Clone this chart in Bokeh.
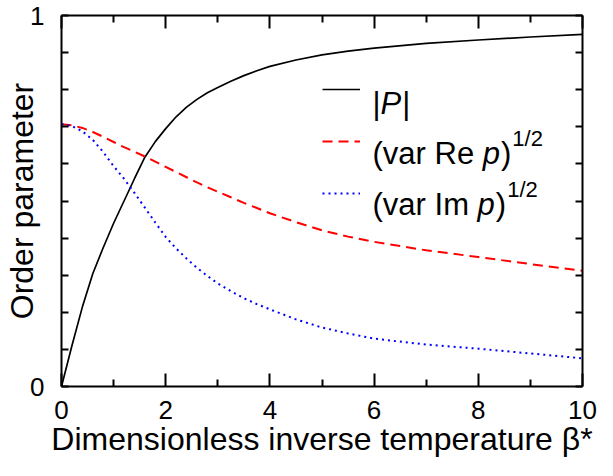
from bokeh.plotting import figure
from bokeh.models import (Range1d, FixedTicker, LinearAxis, Label, Legend, LegendItem,
                          CustomJSTickFormatter)
from bokeh.core.properties import value
from bokeh.embed import file_html
from bokeh.resources import INLINE

# ---- data ----
beta = [0, 0.2, 0.4, 0.6, 0.8, 1.0, 1.2, 1.4, 1.6, 1.8, 2.0, 2.2, 2.4, 2.6, 2.8, 3.0,
        3.25, 3.5, 3.75, 4.0, 4.5, 5.0, 5.5, 6.0, 7.0, 8.0, 9.0, 10.0]
abs_P = [0, 0.11, 0.214, 0.304, 0.374, 0.44, 0.5, 0.56, 0.618, 0.66, 0.695, 0.727, 0.753,
         0.774, 0.792, 0.806, 0.823, 0.838, 0.851, 0.863, 0.88, 0.894, 0.904, 0.912,
         0.925, 0.934, 0.942, 0.949]
std_re = [0.707, 0.704, 0.697, 0.686, 0.673, 0.659, 0.645, 0.633, 0.62, 0.606, 0.592,
          0.578, 0.564, 0.55, 0.537, 0.525, 0.51, 0.495, 0.481, 0.467, 0.443, 0.421,
          0.404, 0.39, 0.367, 0.349, 0.33, 0.312]
std_im = [0.707, 0.702, 0.688, 0.665, 0.632, 0.594, 0.56, 0.522, 0.482, 0.442, 0.403,
          0.372, 0.345, 0.32, 0.298, 0.278, 0.257, 0.238, 0.222, 0.208, 0.181, 0.159,
          0.143, 0.129, 0.113, 0.102, 0.089, 0.076]

x_ticks = [0, 2, 4, 6, 8, 10]
x_minor = [1, 3, 5, 7, 9]
y_ticks = [0, 1]
y_minor = [0.1, 0.2, 0.3, 0.4, 0.5, 0.6, 0.7, 0.8, 0.9]

x_label = "Dimensionless inverse temperature β*"
y_label = "Order parameter"

FONT = "Liberation Sans"

p = figure(width=597, height=460, output_backend="svg", toolbar_location=None,
           x_range=Range1d(0, 10), y_range=Range1d(0, 1),
           min_border_left=61, min_border_right=15, min_border_top=15, min_border_bottom=74,
           x_axis_label=x_label, y_axis_label=y_label)
p.xgrid.visible = False
p.ygrid.visible = False
p.outline_line_color = None
p.background_fill_color = "white"
p.border_fill_color = "white"


def style_axis(ax, major_in, minor_in):
    ax.axis_line_width = 2
    ax.axis_line_color = "black"
    ax.major_tick_in = major_in
    ax.major_tick_out = 0
    ax.minor_tick_in = minor_in
    ax.minor_tick_out = 0
    ax.major_tick_line_width = 2
    ax.minor_tick_line_width = 2
    ax.major_tick_line_color = "black"
    ax.minor_tick_line_color = "black"
    ax.major_label_text_font = FONT
    ax.major_label_text_font_size = "26px"
    ax.major_label_text_color = "black"
    ax.axis_label_text_font = FONT
    ax.axis_label_text_font_size = "32px"
    ax.axis_label_text_font_style = "normal"
    ax.axis_label_text_color = "black"


xax = p.xaxis[0]
xax.ticker = FixedTicker(ticks=x_ticks, minor_ticks=x_minor)
style_axis(xax, 13, 7)
xax.major_label_standoff = 14
xax.axis_label_standoff = -1

yax = p.yaxis[0]
yax.ticker = FixedTicker(ticks=y_ticks, minor_ticks=y_minor)
style_axis(yax, 7, 7)
yax.major_label_standoff = 17
yax.axis_label_standoff = -13

blank = CustomJSTickFormatter(code="return ''")
top = LinearAxis(ticker=FixedTicker(ticks=x_ticks, minor_ticks=x_minor), formatter=blank)
style_axis(top, 13, 7)
top.major_label_text_font_size = "0px"
top.major_label_standoff = 0
p.add_layout(top, "above")

right = LinearAxis(ticker=FixedTicker(ticks=y_ticks, minor_ticks=y_minor), formatter=blank)
style_axis(right, 7, 7)
right.major_label_text_font_size = "0px"
right.major_label_standoff = 0
p.add_layout(right, "right")

r_p = p.line(beta, abs_P, line_color="black", line_width=1.7)
r_re = p.line(beta, std_re, line_color="red", line_width=2, line_dash="10 6")
r_im = p.line(beta, std_im, line_color="blue", line_width=2, line_dash="2 4")

legend = Legend(items=[LegendItem(label=value(""), renderers=[r_p]),
                       LegendItem(label=value(""), renderers=[r_re]),
                       LegendItem(label=value(""), renderers=[r_im])],
                location=(260.7, 166.8), padding=0, margin=0, spacing=0,
                glyph_width=38, glyph_height=52, label_height=52, label_width=0,
                label_standoff=0, border_line_color=None, background_fill_alpha=0,
                label_text_font_size="0px")
p.add_layout(legend)


def txt(x, y, s, dx=0, dy=0, size="31px", style="normal"):
    p.add_layout(Label(x=x, y=y, text=s, x_offset=dx, y_offset=dy,
                       text_font=FONT, text_font_size=size, text_font_style=style,
                       text_color="black", text_baseline="alphabetic", text_align="left"))


# legend texts (with italic symbols and superscripts)
lx = 5.97
rows = [0.7626, 0.6285, 0.4895]
W = 31 / 1000.0  # Arial-metric advance widths

bar = 260 * W
txt(lx, rows[0], "|")
txt(lx, rows[0], "P", dx=bar, style="italic")
txt(lx, rows[0], "|", dx=bar + 667 * W + 1)

re_w = 3556 * W
txt(lx, rows[1], "(var Re")
txt(lx, rows[1], "p", dx=re_w, style="italic")
txt(lx, rows[1], ")", dx=re_w + 556 * W + 1)
txt(lx, rows[1], "1/2", dx=re_w + 889 * W + 2, dy=15, size="22px")

im_w = 3389 * W
txt(lx, rows[2], "(var Im")
txt(lx, rows[2], "p", dx=im_w, style="italic")
txt(lx, rows[2], ")", dx=im_w + 556 * W + 1)
txt(lx, rows[2], "1/2", dx=im_w + 889 * W + 2, dy=15, size="22px")

open("out.html", "w").write(file_html(p, INLINE))
